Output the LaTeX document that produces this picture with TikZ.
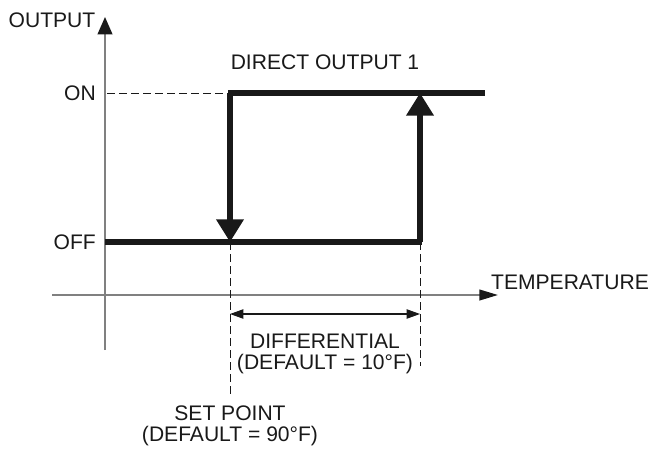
\documentclass[tikz,border=0pt]{standalone}
\usepackage{fontspec}
\setmainfont{Liberation Sans}
\usepackage{tikz}
\usetikzlibrary{arrows.meta}
\usetikzlibrary{calc}

\tikzset{
	axisline/.style={black!50, line width=1.5pt},
	outline/.style={black!90, line width=3.8pt},
	guide/.style={black!90, line width=0.7pt, dash pattern=on 6pt off 3pt},
	lbl/.style={black!90, font=\fontsize{15.8}{18}\selectfont, inner sep=0pt},
}

\begin{document}
\begin{tikzpicture}[x=0.75pt, y=-0.75pt]
	\useasboundingbox (0,0) rectangle (652,452);
	% named points
	\coordinate (o0) at (105,350);
	\coordinate (o1) at (105,17);
	\coordinate (t0) at (52,295);
	\coordinate (t1) at (498,295);
	\coordinate (onL) at (107,93);
	\coordinate (sp) at (230,93);
	\coordinate (spOff) at (230,242);
	\coordinate (offL) at (105,242);
	\coordinate (df) at (420,242);
	\coordinate (dfOn) at (420,93);
	\coordinate (onR) at (485,93);
	\coordinate (spEnd) at (230,396);
	\coordinate (dfEnd) at (420,366);
	\coordinate (dA) at (230,314);
	\coordinate (dB) at (420,314);
	% axes
	\draw[axisline, -{Triangle[width=11pt, length=13pt, color=black!90]}] (o0) -- (o1);
	\draw[axisline, -{Triangle[width=8pt, length=14pt, color=black!90]}] (t0) -- (t1);
	% guides
	\draw[guide] (onL) -- (sp);
	\draw[guide] (spOff) -- (spEnd);
	\draw[guide] (df) -- (dfEnd);
	\draw[black!90, line width=0.8pt, {Triangle[width=7pt, length=10pt]}-{Triangle[width=7pt, length=10pt]}] (dA) -- (dB);
	% output curve
	\draw[outline] (offL) -- ($(df)+(1.9,0)$);
	\draw[outline] ($(sp)+(-1.9,0)$) -- (onR);
	\draw[outline, -{Triangle[width=20pt, length=17pt]}] (sp) -- (spOff);
	\draw[outline, -{Triangle[width=20pt, length=17pt]}] (df) -- (dfOn);
	% labels
	\node[lbl] (outLbl) at (52,20) {OUTPUT};
	\node[lbl, anchor=east] (onLbl) at (96,93) {ON};
	\node[lbl, anchor=east] (offLbl) at (96,242) {OFF};
	\node[lbl] (dirLbl) at (325,62) {DIRECT OUTPUT 1};
	\node[lbl] (tempLbl) at (570,282) {TEMPERATURE};
	\node[lbl] (difLbl) at (325,341) {DIFFERENTIAL};
	\node[lbl] (difDef) at (325,364) {(DEFAULT = 10°F)};
	\node[lbl] (spLbl) at (230,413) {SET POINT};
	\node[lbl] (spDef) at (230,436) {(DEFAULT = 90°F)};
\end{tikzpicture}
\end{document}
